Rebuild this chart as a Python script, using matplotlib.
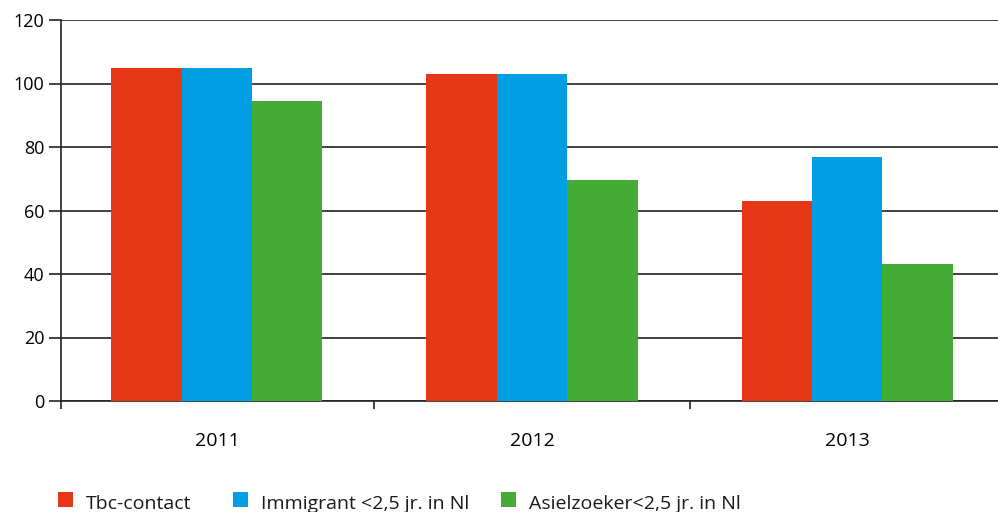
import matplotlib
matplotlib.use("Agg")
import matplotlib.pyplot as plt
import numpy as np
from matplotlib.patches import Rectangle

years = ["2011", "2012", "2013"]
series_names = ["Tbc-contact", "Immigrant <2,5 jr. in Nl", "Asielzoeker<2,5 jr. in Nl"]
tbc_contact = [105, 103, 63]
immigrant = [105, 103, 77]
asielzoeker = [94.5, 69.5, 43]
colors = ["#E53715", "#009FE3", "#44AC34"]
y_ticks = [0, 20, 40, 60, 80, 100, 120]

plt.rcParams["font.family"] = ["Open Sans", "DejaVu Sans"]

W, H = 998, 512
fig = plt.figure(figsize=(W / 100, H / 100), dpi=100)
ax = fig.add_axes([61 / W, 1 - 401 / H, 1 - 61 / W, 381 / H])

x = np.arange(len(years))
w = 0.2233
for i, vals in enumerate([tbc_contact, immigrant, asielzoeker]):
    ax.bar(x + (i - 1) * w, vals, width=w, color=colors[i], zorder=3, linewidth=0)

x_left, x_right = -0.495, 2.479
ax.set_ylim(0, 120)
ax.set_xlim(x_left, x_right)
ax.set_yticks(y_ticks)
ax.yaxis.grid(True, color="#222222", linewidth=1.2, zorder=0)
ax.set_axisbelow(True)

ax.set_xticks(x)
ax.set_xticklabels(years)
ax.set_xticks([x_left, 0.5, 1.5], minor=True)
ax.tick_params(axis="x", which="major", length=0, pad=22, labelsize=14)
ax.tick_params(axis="x", which="minor", length=6, width=1.2, color="#222222")
ax.tick_params(axis="y", length=9, width=1.2, color="#222222", labelsize=13, pad=3)

for s in ["top", "right"]:
    ax.spines[s].set_visible(False)
for s in ["left", "bottom"]:
    ax.spines[s].set_color("#222222")
    ax.spines[s].set_linewidth(1.2)

# legend row along the bottom edge
swatch_x = [58, 233, 501]
label_x = [86, 261, 529]
for sx, lx, c, name in zip(swatch_x, label_x, colors, series_names):
    fig.add_artist(Rectangle((sx / W, 1 - 507 / H), 15 / W, 15 / H,
                             transform=fig.transFigure, facecolor=c, edgecolor="none"))
    fig.text(lx / W, 1 - 509 / H, name, fontsize=14, color="#1a1a1a",
             ha="left", va="baseline")

fig.savefig("out.png", dpi=100)
